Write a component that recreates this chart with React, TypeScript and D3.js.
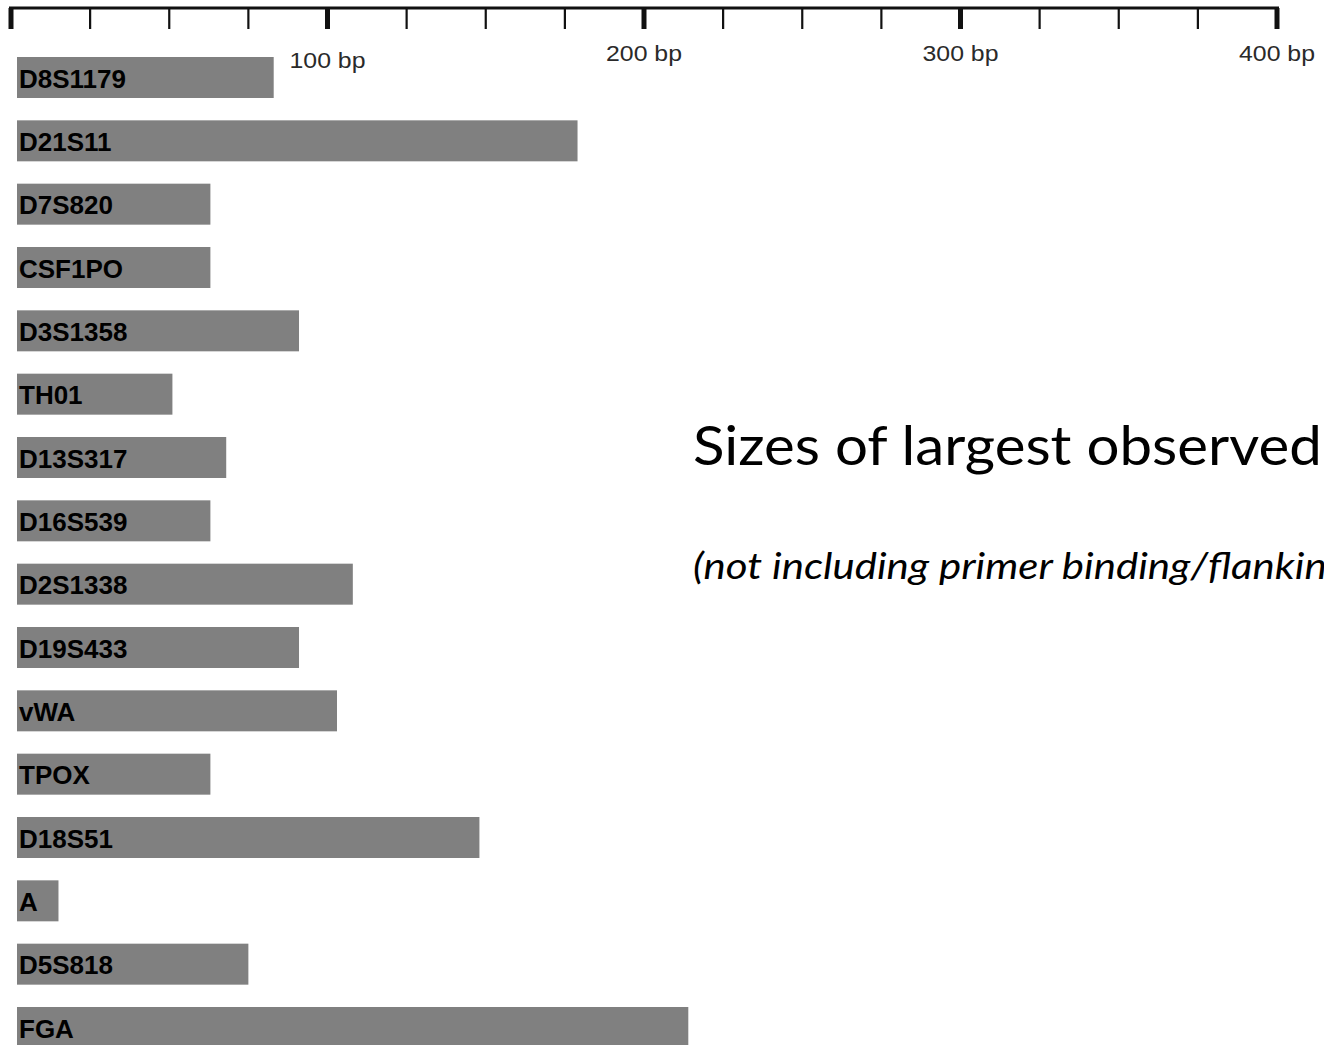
import React, { useLayoutEffect, useRef, useState } from "react";
import * as d3 from "d3";

const loci = ["D8S1179","D21S11","D7S820","CSF1PO","D3S1358","TH01","D13S317","D16S539","D2S1338","D19S433","vWA","TPOX","D18S51","A","D5S818","FGA"];
const sizes = [83,179,63,63,91,51,68,63,108,91,103,63,148,15,75,214];
const tickValues = d3.range(0, 401, 25);
const labelTicks = [100, 200, 300, 400];
const titleVisible = "Sizes of largest observed";
const titleRest = " alleles";
const subtitleVisible = "(not including primer binding/flankin";
const subtitleRest = "g regions)";

const W = 1324, H = 1045;

export default function App() {
  const x = d3.scaleLinear().domain([0, 400]).range([11, 1277]);
  const barStart = x(0) + 6;
  const y = d3.scalePoint<string>().domain(loci).range([57, 1007]);
  const barH = 41;
  const mt = useRef<SVGTextElement>(null);
  const ms = useRef<SVGTextElement>(null);
  const [sx, setSx] = useState({ t: 1.07, s: 1.1 });
  useLayoutEffect(() => {
    if (mt.current && ms.current) {
      const wt = mt.current.getComputedTextLength();
      const ws = ms.current.getComputedTextLength();
      setSx({ t: 629 / wt, s: 634 / ws });
    }
  }, []);
  const titleFont = 54;
  const subFont = 37;
  return (
    <svg width={W} height={H} style={{ position: "absolute", left: 0, top: 0, background: "#fff" }}>
      <line x1={x(0) - 2} x2={x(400) + 2} y1={8} y2={8} stroke="#111" strokeWidth={3} />
      {tickValues.map((t) => (
        <line key={t} x1={x(t)} x2={x(t)} y1={8} y2={29}
          stroke="#111" strokeWidth={t % 100 === 0 ? 5 : 2.2} />
      ))}
      {labelTicks.map((t) => (
        <text key={t} x={x(t)} y={t === 100 ? 68 : 61} textAnchor="middle" textLength={76} lengthAdjust="spacingAndGlyphs"
          fontFamily="Liberation Sans, Arial, sans-serif" fontSize={22} fill="#2a2a2a">{t} bp</text>
      ))}
      {loci.map((l, i) => (
        <g key={l}>
          <rect x={barStart} y={y(l)!} width={x(sizes[i]) - barStart} height={l === "FGA" ? 38 : barH} fill="#808080" />
          <text x={19} y={y(l)! + 30.5} fontFamily="Liberation Sans, Arial, sans-serif" fontWeight="bold" fontSize={26} fill="#000">{l}</text>
        </g>
      ))}
      <text ref={mt} x={0} y={-100} visibility="hidden" fontFamily="Lato, sans-serif" fontSize={titleFont}>{titleVisible}</text>
      <text ref={ms} x={0} y={-100} visibility="hidden" fontFamily="Lato, sans-serif" fontStyle="italic" fontSize={subFont}>{subtitleVisible}</text>
      <text transform={`translate(693,465) scale(${sx.t},1)`} fontFamily="Lato, sans-serif" fontSize={titleFont} fill="#000">{titleVisible + titleRest}</text>
      <text transform={`translate(693,579) scale(${sx.s},1)`} fontFamily="Lato, sans-serif" fontStyle="italic" fontSize={subFont} fill="#000">{subtitleVisible + subtitleRest}</text>
    </svg>
  );
}
